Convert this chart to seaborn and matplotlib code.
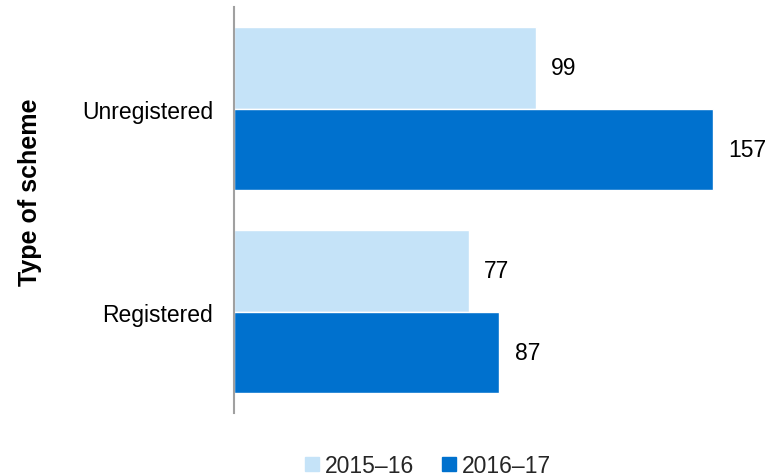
import matplotlib
matplotlib.use("Agg")
import matplotlib.pyplot as plt
import seaborn as sns
import pandas as pd

# data
schemes = ["Unregistered", "Registered"]
years = ["2015\u201316", "2016\u201317"]
values_2015 = [99, 77]
values_2016 = [157, 87]
colors = ["#C5E3F8", "#0071CE"]

df = pd.DataFrame({
    "Scheme": schemes * 2,
    "Year": [years[0]] * 2 + [years[1]] * 2,
    "Count": values_2015 + values_2016,
})

sns.set_style("white")
plt.rcParams["font.family"] = ["Liberation Sans", "DejaVu Sans"]

fig = plt.figure(figsize=(7.69, 4.77), dpi=100)
ax = fig.add_axes([0.304, 0.132, 0.675, 0.851])

sns.barplot(data=df, y="Scheme", x="Count", hue="Year", order=schemes,
            hue_order=years, palette=colors, orient="h", width=0.8,
            saturation=1, ax=ax, legend=False)

for cont in ax.containers:
    ax.bar_label(cont, padding=11, fontsize=16.5, color="black")

ax.set_xlim(0, 170)
ax.set_ylim(1.5, -0.5)
ax.set_xticks([])
ax.set_xlabel("")
ax.set_ylabel("Type of scheme", fontsize=18, fontweight="bold", color="black")
ax.yaxis.set_label_coords(-0.37, 0.547)
ax.tick_params(axis="y", length=0, pad=15, labelsize=16.5, labelcolor="black")
for s in ["top", "right", "bottom"]:
    ax.spines[s].set_visible(False)
ax.spines["left"].set_color("#a0a0a0")
ax.spines["left"].set_linewidth(1.5)

handles = [plt.Line2D([], [], marker="s", linestyle="", markersize=10,
                      color=c) for c in colors]
fig.legend(handles, years, loc="lower center", bbox_to_anchor=(0.553, -0.045),
           ncol=2, frameon=False, fontsize=16.5, handletextpad=0.0,
           columnspacing=1.0, handlelength=1.1)

fig.savefig("out.png", dpi=100)
